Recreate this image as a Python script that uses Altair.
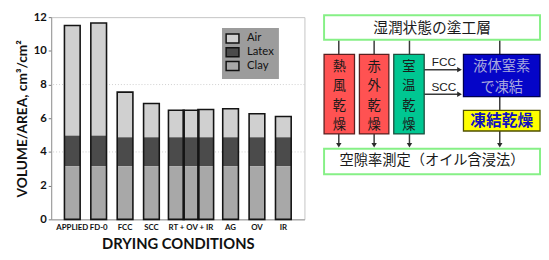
import altair as alt
import pandas as pd

# ---------------- data: stacked volume chart ----------------
conditions = ["APPLIED", "FD-0", "FCC", "SCC", "RT + OV + IR", "RT + OV + IR",
              "RT + OV + IR", "AG", "OV", "IR"]
members = ["APPLIED", "FD-0", "FCC", "SCC", "RT", "OV", "IR", "AG", "OV", "IR"]
member_offset = [0, 0, 0, 0, -1, 0, 1, 0, 0, 0]
clay_top = [3.15, 3.15, 3.15, 3.15, 3.15, 3.15, 3.15, 3.15, 3.15, 3.15]
latex_top = [4.97, 4.97, 4.87, 4.87, 4.87, 4.87, 4.87, 4.87, 4.87, 4.87]
air_top = [11.5, 11.65, 7.55, 6.87, 6.48, 6.47, 6.52, 6.56, 6.27, 6.1]
components = ["Air", "Latex", "Clay"]
component_colors = ["#d0d0d0", "#4b4b4b", "#a8a8a8"]
x_order = ["APPLIED", "FD-0", "FCC", "SCC", "RT + OV + IR", " ", "AG", "OV", "IR"]
y_ticks = [0, 2, 4, 6, 8, 10, 12]
grid_values = [4, 8]

# ---------------- data: flow diagram ----------------
box_names = ["top", "hot", "infra", "room", "ln2", "fd", "bottom"]
box_x1 = [327, 327, 363, 398, 469, 469, 327]
box_x2 = [547, 358, 393, 429, 547, 547, 547]
box_y1 = [10, 50, 50, 50, 50, 107, 146]
box_y2 = [35, 131, 131, 131, 93, 128, 172]
box_fill = ["#ffffff", "#ff5252", "#ff5252", "#00c792", "#0505c8", "#ffff00", "#ffffff"]
box_stroke = ["#86f086", "#5a2020", "#5a2020", "#1d4d3d", "#000050", "#505000", "#86f086"]
box_sw = [2, 1.3, 1.3, 1.3, 1.3, 1.3, 2]

line_x1 = [342, 378, 414, 506, 342, 378, 414, 506, 506, 429, 429]
line_y1 = [35, 35, 35, 35, 131, 131, 131, 128, 93, 65.5, 90.5]
line_x2 = [342, 378, 414, 506, 342, 378, 414, 506, 506, 465, 465]
line_y2 = [50, 50, 50, 50, 142, 142, 142, 142, 107, 65.5, 90.5]

arrow_x = [342, 378, 414, 506, 465, 465]
arrow_y = [142.5, 142.5, 142.5, 142.5, 65.5, 90.5]
arrow_shape = ["triangle-down"] * 4 + ["triangle-right"] * 2

cjk_text = ["湿潤状態の塗工層", "空隙率測定（オイル含浸法）", "液体窒素", "で凍結"]
cjk_x = [437, 437, 508, 508]
cjk_y = [23, 159, 62.5, 84]
cjk_size = [15, 14.5, 14.5, 14.5]
cjk_color = ["#1a1a1a", "#1a1a1a", "#a9a9dd", "#a9a9dd"]

lat_text = ["FCC", "SCC"]
lat_x = [449, 449]
lat_y = [58, 83]

vert_labels = ["熱風乾燥", "赤外乾燥", "室温乾燥"]
vert_x = [342.5, 378, 413.5]

fd_text = ["凍結乾燥"]
fd_x = [508]
fd_y = [118]

# ---------------- tables ----------------
seg_rows = []
for i in range(len(members)):
    bounds = {"Clay": (0, clay_top[i]), "Latex": (clay_top[i], latex_top[i]),
              "Air": (latex_top[i], air_top[i])}
    for comp in components:
        lo, hi = bounds[comp]
        seg_rows.append({"condition": conditions[i], "member": members[i],
                         "offset": member_offset[i], "component": comp,
                         "lo": lo, "hi": hi})
seg_df = pd.DataFrame(seg_rows)
bar_df = pd.DataFrame({"condition": conditions, "member": members,
                       "offset": member_offset, "total": air_top})
grid_df = pd.DataFrame({"g": grid_values})

FONT = "Lato"
GROUP_TEST = "datum.condition !== datum.member"
NBSP_PAD = "\u00a0" * 11

x_axis = alt.Axis(title="DRYING CONDITIONS", labelAngle=0, ticks=False,
                  domainColor="#9a9a9a", labelFont=FONT, labelFontWeight="bold",
                  labelFontSize=8, labelColor="#111", labelPadding=4,
                  labelOffset={"condition": {"test": "datum.value === 'RT + OV + IR'",
                                             "value": 13.4}, "value": 0},
                  titleFont=FONT, titleFontWeight="bold", titleFontSize=15,
                  titleColor="#111", titlePadding=6)
x_scale = alt.Scale(domain=x_order, paddingInner=0, paddingOuter=0.3)
y_scale = alt.Scale(domain=[0, 12], nice=False)
y_axis = alt.Axis(values=y_ticks, title="VOLUME/AREA, cm³/cm²", grid=False,
                  labelFont=FONT, labelFontWeight="bold", labelFontSize=11.5,
                  labelColor="#111", tickSize=3, tickColor="#777",
                  domainColor="#9a9a9a", labelPadding=2,
                  titleFont=FONT, titleFontWeight="bold", titleFontSize=14,
                  titleColor="#111", titlePadding=3.5)
# group bars sit around the boundary between the group's slot and the spacer slot
xo_enc = alt.XOffset("offset:Q", scale=alt.Scale(domain=[-1, 1], range=[11.9, 41.9]))

color_enc = alt.Color(
    "component:N",
    scale=alt.Scale(domain=components, range=component_colors),
    legend=alt.Legend(orient="none", legendX=174, legendY=11, title=None,
                      fillColor="#9c9c9c", padding=5,
                      symbolType="M-1.45,-1L1.45,-1L1.45,1L-1.45,1Z",
                      symbolSize=81, symbolStrokeColor="#111",
                      symbolStrokeWidth=1.5, symbolOpacity=1,
                      labelFont=FONT, labelFontSize=11.5,
                      labelColor="#111", labelOffset=9, rowPadding=-2,
                      labelExpr="datum.label + '" + NBSP_PAD + "'"),
)

grid = alt.Chart(grid_df).mark_rule(color="#cfcfcf", strokeDash=[1, 2], strokeWidth=1).encode(
    y=alt.Y("g:Q", scale=y_scale, axis=y_axis)
)

seg_single = alt.Chart(seg_df).transform_filter("!(" + GROUP_TEST + ")").mark_bar(width=16).encode(
    x=alt.X("condition:N", scale=x_scale, axis=x_axis),
    y=alt.Y("lo:Q", scale=y_scale, axis=y_axis),
    y2="hi:Q",
    color=color_enc,
)
seg_group = alt.Chart(seg_df).transform_filter(GROUP_TEST).mark_bar(width=16).encode(
    x=alt.X("condition:N", scale=x_scale, axis=x_axis),
    xOffset=xo_enc,
    y=alt.Y("lo:Q", scale=y_scale, axis=y_axis),
    y2="hi:Q",
    color=color_enc,
)
out_single = alt.Chart(bar_df).transform_filter("!(" + GROUP_TEST + ")").mark_bar(
    width=16, fillOpacity=0, stroke="#141414", strokeWidth=1.6).encode(
    x=alt.X("condition:N", scale=x_scale, axis=x_axis),
    y=alt.Y("total:Q", scale=y_scale, axis=y_axis),
    y2=alt.datum(0),
)
out_group = alt.Chart(bar_df).transform_filter(GROUP_TEST).mark_bar(
    width=16, fillOpacity=0, stroke="#141414", strokeWidth=1.6).encode(
    x=alt.X("condition:N", scale=x_scale, axis=x_axis),
    xOffset=xo_enc,
    y=alt.Y("total:Q", scale=y_scale, axis=y_axis),
    y2=alt.datum(0),
)

left = alt.layer(grid, seg_single, seg_group, out_single, out_group).properties(
    width=258, height=206, view=alt.ViewBackground(stroke="#c4c4c4")
)

# ---------------- diagram ----------------
VERT_TOP = 63
VERT_STEP = 19.6
vert_rows = []
for label, xc in zip(vert_labels, vert_x):
    for k, ch in enumerate(label):
        vert_rows.append({"t": ch, "x": xc, "y": VERT_TOP + k * VERT_STEP})
vert_df = pd.DataFrame(vert_rows)

box_df = pd.DataFrame({"name": box_names, "x1": box_x1, "x2": box_x2, "y1": box_y1,
                       "y2": box_y2, "fill": box_fill, "stroke": box_stroke, "sw": box_sw})
line_df = pd.DataFrame({"x1": line_x1, "y1": line_y1, "x2": line_x2, "y2": line_y2})
arrow_df = pd.DataFrame({"x": arrow_x, "y": arrow_y, "shape": arrow_shape})
cjk_df = pd.DataFrame({"t": cjk_text, "x": cjk_x, "y": cjk_y, "s": cjk_size, "c": cjk_color})
lat_df = pd.DataFrame({"t": lat_text, "x": lat_x, "y": lat_y})
fd_df = pd.DataFrame({"t": fd_text, "x": fd_x, "y": fd_y})

dx = alt.Scale(domain=[318, 548], nice=False, zero=False)
dy = alt.Scale(domain=[12, 218], nice=False, zero=False, reverse=True)


def px(field):
    return alt.X(field, scale=dx, axis=None)


def py(field):
    return alt.Y(field, scale=dy, axis=None)


lines = alt.Chart(line_df).mark_rule(color="#3a3a3a", strokeWidth=1.5).encode(
    x=px("x1:Q"), y=py("y1:Q"), x2="x2:Q", y2="y2:Q")
boxes = alt.Chart(box_df).mark_rect().encode(
    x=px("x1:Q"), y=py("y1:Q"), x2="x2:Q", y2="y2:Q",
    fill=alt.Fill("fill:N", scale=None), stroke=alt.Stroke("stroke:N", scale=None),
    strokeWidth=alt.StrokeWidth("sw:Q", scale=None))
arrows = alt.Chart(arrow_df).mark_point(filled=True, size=30, color="#2a2a2a", opacity=1).encode(
    x=px("x:Q"), y=py("y:Q"), shape=alt.Shape("shape:N", scale=None))
cjk = alt.Chart(cjk_df).mark_text(font="Noto Sans CJK JP", baseline="middle").encode(
    x=px("x:Q"), y=py("y:Q"), text="t:N", size=alt.Size("s:Q", scale=None),
    color=alt.Color("c:N", scale=None))
lat = alt.Chart(lat_df).mark_text(font="Liberation Sans", fontSize=12, color="#1a1a1a",
                                  baseline="middle").encode(
    x=px("x:Q"), y=py("y:Q"), text="t:N")
vert = alt.Chart(vert_df).mark_text(font="Noto Sans CJK JP", fontSize=13.5, color="#1a1a1a",
                                    baseline="middle").encode(
    x=px("x:Q"), y=py("y:Q"), text="t:N")
fd = alt.Chart(fd_df).mark_text(font="Noto Sans CJK JP", fontSize=16, fontWeight="bold",
                                color="#1010c0", baseline="middle").encode(
    x=px("x:Q"), y=py("y:Q"), text="t:N")

right = alt.layer(lines, boxes, arrows, cjk, lat, vert, fd).properties(
    width=230, height=206, view=alt.ViewBackground(stroke=None)
)

chart = alt.hconcat(left, right, spacing=10).properties(
    padding={"left": 7, "top": 0, "right": 0, "bottom": 0}
).configure(background="#ffffff")

chart.save("out.html", embed_options={"renderer": "svg", "actions": False})
